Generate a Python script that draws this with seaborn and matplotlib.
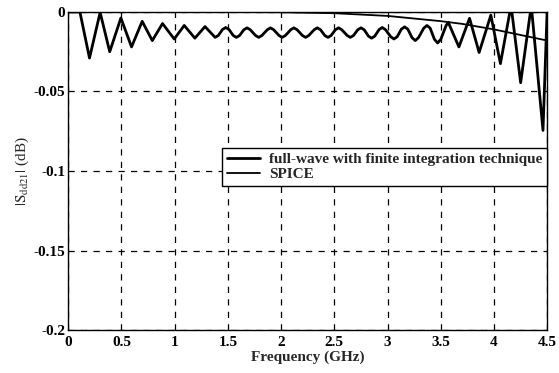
import numpy as np
import pandas as pd
import matplotlib
matplotlib.use("Agg")
import matplotlib.pyplot as plt
import seaborn as sns

# ---------------------------------------------------------------------
# data (frequency in GHz, magnitude in dB)
# ---------------------------------------------------------------------
fullwave_freq = [0.0, 0.11, 0.20, 0.30, 0.39, 0.495, 0.595, 0.695, 0.79, 0.886,
                 0.996, 1.09, 1.19, 1.285,
                 1.38, 1.41, 1.45, 1.48, 1.51, 1.55, 1.58, 1.61, 1.65, 1.68,
                 1.71, 1.76, 1.79, 1.82, 1.87, 1.90, 1.93, 1.98, 2.01, 2.04,
                 2.09, 2.12, 2.15, 2.20, 2.23, 2.26, 2.31, 2.34, 2.37, 2.41,
                 2.44, 2.47, 2.51, 2.54, 2.57, 2.62, 2.65, 2.68, 2.72, 2.75,
                 2.78, 2.82, 2.85, 2.88, 2.92, 2.95, 2.98, 3.03, 3.06, 3.09,
                 3.13, 3.16, 3.19, 3.23, 3.26, 3.29, 3.34, 3.37, 3.40, 3.44,
                 3.47, 3.50, 3.55, 3.57,
                 3.67, 3.77, 3.86, 3.97, 4.06, 4.16, 4.25, 4.35, 4.46, 4.5]
fullwave_db = [0.0, 0.0, -0.029, -0.0003, -0.025, -0.0038, -0.022, -0.0059, -0.018, -0.0073,
               -0.017, -0.0085, -0.0165, -0.0092,
               -0.016, -0.0148, -0.0110, -0.0098, -0.0110, -0.0148, -0.016, -0.0148, -0.0112, -0.010,
               -0.0112, -0.0148, -0.016, -0.0148, -0.0112, -0.010, -0.0112, -0.0148, -0.016, -0.0148,
               -0.0112, -0.010, -0.0112, -0.0148, -0.016, -0.0148, -0.0112, -0.010, -0.0112, -0.0148,
               -0.016, -0.0148, -0.0112, -0.010, -0.0112, -0.0148, -0.016, -0.0148, -0.0112, -0.010,
               -0.0112, -0.0152, -0.0165, -0.0152, -0.0111, -0.0098, -0.0111, -0.0156, -0.017, -0.0156,
               -0.0108, -0.0094, -0.0108, -0.0162, -0.018, -0.0162, -0.0102, -0.0085, -0.0102, -0.0172,
               -0.0195, -0.0172, -0.0085, -0.0065,
               -0.022, -0.0040, -0.0255, -0.0020, -0.0325, 0.004, -0.0445, 0.004, -0.0745, 0.003]

spice_freq = [0.0, 1.0, 1.5, 2.0, 2.5, 3.0, 3.5, 3.7, 4.0, 4.25, 4.5]
spice_db = [0.0, 0.0, 0.0, -0.0002, -0.0008, -0.0025, -0.0058, -0.0075, -0.011, -0.0145, -0.018]

x_ticks = [0, 0.5, 1, 1.5, 2, 2.5, 3, 3.5, 4, 4.5]
x_tick_labels = ["0", "0.5", "1", "1.5", "2", "2.5", "3", "3.5", "4", "4.5"]
y_ticks = [0, -0.05, -0.1, -0.15, -0.2]
y_tick_labels = ["0", "-0.05", "-0.1", "-0.15", "-0.2"]

fullwave_df = pd.DataFrame({"freq": fullwave_freq, "db": fullwave_db})
spice_df = pd.DataFrame({"freq": spice_freq, "db": spice_db})

# ---------------------------------------------------------------------
# theme
# ---------------------------------------------------------------------
sns.set_theme(style="white")
plt.rcParams["font.family"] = ["Liberation Serif", "DejaVu Serif"]
plt.rcParams["mathtext.fontset"] = "stix"
plt.rcParams["axes.edgecolor"] = "black"
plt.rcParams["axes.linewidth"] = 1.0

fig = plt.figure(figsize=(5.59, 3.73), dpi=100)
ax = fig.add_axes([0.122, 0.115, 0.857, 0.853])

sns.lineplot(data=fullwave_df, x="freq", y="db", ax=ax, color="black",
             linewidth=2.0, label="full-wave with finite integration technique",
             sort=False, solid_joinstyle="round")
sns.lineplot(data=spice_df, x="freq", y="db", ax=ax, color="black",
             linewidth=1.3, label="SPICE", sort=False)

ax.set_xlim(0, 4.5)
ax.set_ylim(-0.2, 0)
ax.set_xticks(x_ticks)
ax.set_xticklabels(x_tick_labels)
ax.set_yticks(y_ticks)
ax.set_yticklabels(y_tick_labels)
ax.tick_params(axis="both", direction="in", length=3, labelsize=11, colors="black")
ax.tick_params(axis="x", pad=4)
ax.tick_params(axis="y", pad=2)
for lbl in ax.get_xticklabels() + ax.get_yticklabels():
    lbl.set_fontweight("bold")

ax.grid(True, color="black", linestyle=(0, (5, 5)), linewidth=0.9)
for sp in ax.spines.values():
    sp.set_visible(True)
    sp.set_color("black")

ax.set_xlabel("Frequency (GHz)", fontsize=11, fontweight="bold", labelpad=1)
ax.set_ylabel(r"$|\mathrm{S}_{\mathrm{dd21}}|$ (dB)", fontsize=11, labelpad=2)

leg = ax.legend(loc="center right", bbox_to_anchor=(1.0, 0.513), fontsize=11,
                frameon=True, fancybox=False, framealpha=1, edgecolor="black",
                handlelength=2.2, borderpad=0.3, labelspacing=0.1, handletextpad=0.6,
                borderaxespad=0)
leg.get_frame().set_linewidth(1.0)
for txt in leg.get_texts():
    txt.set_fontweight("bold")

fig.savefig("out.png", dpi=100)
